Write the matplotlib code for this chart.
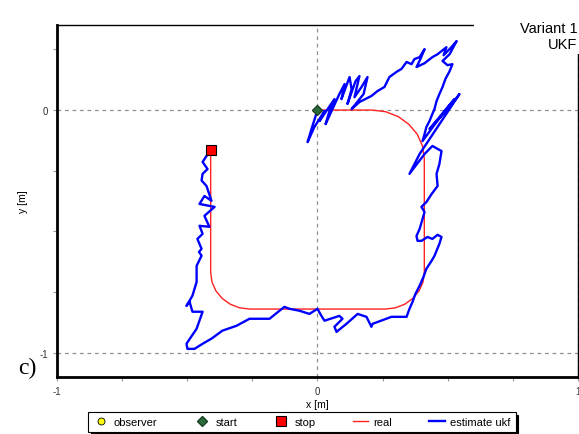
import matplotlib.pyplot as plt
from matplotlib.patches import Rectangle

plt.rcParams['font.family'] = ['Liberation Sans', 'DejaVu Sans']
plt.rcParams['axes.unicode_minus'] = False

# real trajectory (waypoints)
real_x = [0.0, 0.21, 0.262, 0.31, 0.351, 0.383, 0.403, 0.41,
          0.41, 0.405, 0.39, 0.366, 0.335, 0.299, 0.26,
          -0.26, -0.299, -0.335, -0.366, -0.39, -0.405, -0.41,
          -0.41]
real_y = [0.0, 0.0, -0.007, -0.027, -0.059, -0.1, -0.148, -0.2,
          -0.67, -0.709, -0.745, -0.776, -0.8, -0.815, -0.82,
          -0.82, -0.815, -0.8, -0.776, -0.745, -0.709, -0.67,
          -0.165]

# UKF estimate
est_x = [0.0, -0.023, -0.038, -0.012, 0.027, 0.008, 0.065, 0.046, 0.031, 0.084,
         0.104, 0.092, 0.123, 0.131, 0.115, 0.146, 0.161, 0.142, 0.169, 0.192,
         0.177, 0.131, 0.161, 0.207, 0.230, 0.257, 0.276, 0.307, 0.322, 0.342,
         0.361, 0.372, 0.392, 0.411, 0.395, 0.380, 0.411, 0.441, 0.461, 0.495,
         0.484, 0.514, 0.534, 0.507, 0.480, 0.499, 0.518, 0.507, 0.491, 0.480,
         0.468, 0.457, 0.449, 0.441, 0.430, 0.418, 0.411, 0.403,
         0.488, 0.526, 0.468, 0.430, 0.507, 0.545, 0.468, 0.392, 0.353, 0.411,
         0.441, 0.461, 0.476, 0.468, 0.457, 0.461, 0.438, 0.418, 0.399, 0.411,
         0.403, 0.392, 0.380, 0.384, 0.399, 0.422, 0.441, 0.461, 0.476, 0.468,
         0.449, 0.438, 0.418, 0.407, 0.392, 0.376, 0.365, 0.353, 0.342,
         0.284, 0.211, 0.207, 0.188, 0.154, 0.111, 0.073, 0.065, 0.096, 0.084,
         0.027, 0.015, 0.000, -0.031, -0.069, -0.107, -0.127, -0.146, -0.184, -0.261,
         -0.311, -0.365, -0.407, -0.441, -0.472, -0.499, -0.503, -0.464, -0.441, -0.480,
         -0.491, -0.503, -0.480, -0.464,
         -0.464, -0.445, -0.455, -0.445, -0.461, -0.441, -0.453, -0.415, -0.434, -0.395,
         -0.415, -0.453, -0.434, -0.407, -0.426, -0.445, -0.441, -0.422, -0.441, -0.426,
         -0.411]
est_y = [0.0, -0.078, -0.132, -0.070, -0.004, -0.045, 0.045, -0.004, -0.058, 0.066,
         0.107, 0.045, 0.136, 0.086, 0.025, 0.119, 0.140, 0.053, 0.095, 0.136,
         0.066, 0.004, 0.033, 0.058, 0.078, 0.095, 0.136, 0.160, 0.169, 0.198,
         0.189, 0.210, 0.218, 0.251, 0.210, 0.177, 0.193, 0.218, 0.230, 0.259,
         0.226, 0.259, 0.284, 0.230, 0.202, 0.185, 0.189, 0.160, 0.128, 0.095,
         0.066, 0.037, 0.004, -0.016, -0.045, -0.070, -0.099, -0.128,
         -0.004, 0.045, -0.029, -0.078, 0.012, 0.066, -0.058, -0.181, -0.263, -0.181,
         -0.148, -0.160, -0.169, -0.222, -0.263, -0.313, -0.346, -0.379, -0.399, -0.420,
         -0.449, -0.490, -0.519, -0.539, -0.539, -0.523, -0.531, -0.514, -0.523, -0.551,
         -0.601, -0.621, -0.654, -0.687, -0.724, -0.757, -0.790, -0.819, -0.852,
         -0.852, -0.881, -0.893, -0.852, -0.840, -0.881, -0.914, -0.893, -0.860, -0.848,
         -0.868, -0.848, -0.819, -0.840, -0.827, -0.819, -0.811, -0.827, -0.860, -0.860,
         -0.889, -0.909, -0.942, -0.963, -0.984, -0.984, -0.963, -0.901, -0.831, -0.831,
         -0.790, -0.807, -0.765, -0.708,
         -0.642, -0.600, -0.585, -0.572, -0.531, -0.510, -0.477, -0.481, -0.436, -0.399,
         -0.395, -0.387, -0.354, -0.374, -0.313, -0.290, -0.263, -0.243, -0.214, -0.189,
         -0.173]

start_xy = (0.0, 0.0)
stop_xy = (-0.41, -0.165)
observer_x, observer_y = [], []

fig = plt.figure(figsize=(5.79, 4.35), dpi=100)
ax = fig.add_axes([0.0984, 0.131, 0.8999, 0.809])

ax.plot(real_x, real_y, color='#ff2020', lw=1, label='real', zorder=3)
ax.plot(est_x, est_y, color='#0000ff', lw=1.7, label='estimate ukf', zorder=4)
ax.plot(observer_x, observer_y, 'o', color='#ffff00', mec='black', mew=0.6, ms=5,
        label='observer', ls='none')
ax.plot(*start_xy, 'D', color='#2b6b3a', mec='#1a4025', ms=5, label='start', zorder=5)
ax.plot(*stop_xy, 's', color='#ff0000', mec='black', mew=0.8, ms=7, label='stop', zorder=5)

ax.set_xlim(-1, 1)
ax.set_ylim(-1.1, 0.35)
ax.set_xticks([-1, 0, 1])
ax.set_xticks([-0.75, -0.5, -0.25, 0.25, 0.5, 0.75], minor=True)
ax.set_yticks([-1, 0])
ax.set_yticks([-0.75, -0.5, -0.25, 0.25], minor=True)
ax.tick_params(which='both', direction='out', length=3, width=0.8, color='#999999',
               labelsize=7, labelcolor='#333333')
ax.grid(True, which='major', color='#909090', ls=(0, (3, 3)), lw=0.9)

for s in ['left', 'bottom']:
    ax.spines[s].set_linewidth(2)
for s in ['top', 'right']:
    ax.spines[s].set_linewidth(1)

ax.set_xlabel('x [m]', fontsize=7.5, labelpad=2)
ax.set_ylabel('y [m]', fontsize=7.5, labelpad=8)

# white box covering the top-right corner behind the variant label
fig.add_artist(Rectangle((474 / 579, 1 - 55 / 435), 1, 1, transform=fig.transFigure,
                         facecolor='white', edgecolor='none', zorder=5))
fig.text(0.997, 0.915, 'Variant 1\nUKF', ha='right', va='center', fontsize=10.5,
         multialignment='right', linespacing=1.1, zorder=6)
fig.text(0.032, 0.152, 'c)', fontsize=17, family='Liberation Serif', va='center')

h, l = ax.get_legend_handles_labels()
order = ['observer', 'start', 'stop', 'real', 'estimate ukf']
hd = dict(zip(l, h))
leg = fig.legend([hd[k] for k in order], order, loc='center',
                 bbox_to_anchor=(0.521, 0.027), ncol=5, fontsize=8,
                 frameon=True, fancybox=False,
                 shadow={'color': 'black', 'alpha': 1}, handlelength=1.4,
                 columnspacing=3.3, handletextpad=0.5, borderpad=0.45,
                 edgecolor='black')
leg.get_frame().set_linewidth(0.8)

fig.savefig('out.png', dpi=100)
